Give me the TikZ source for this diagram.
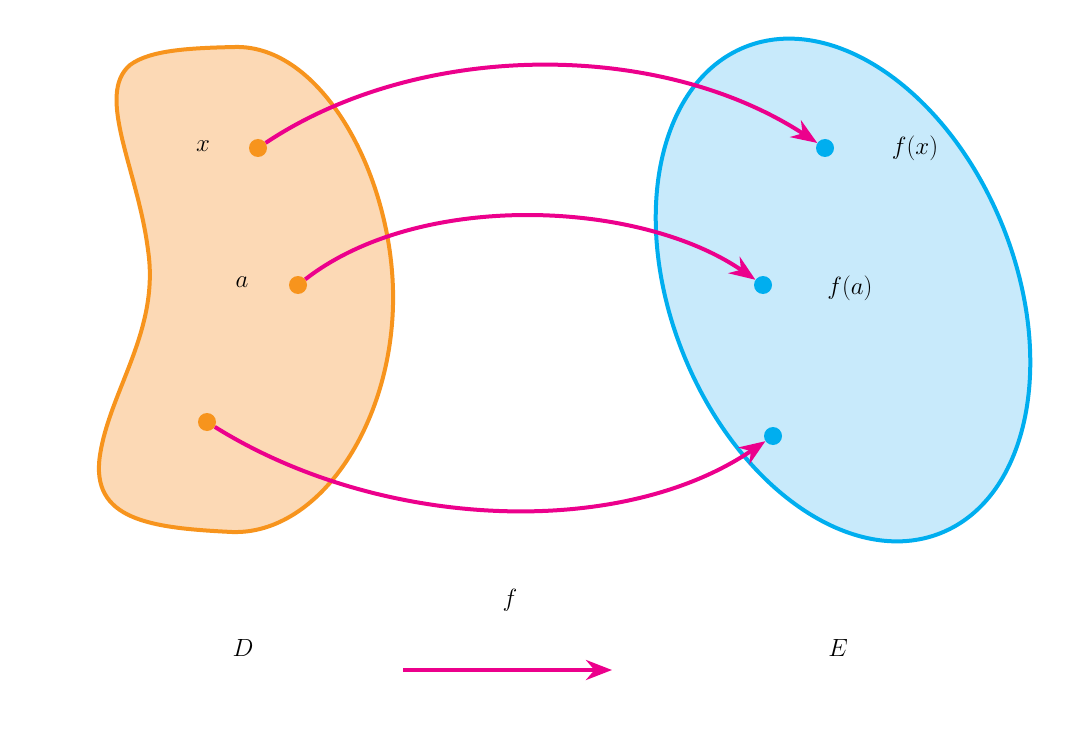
\documentclass[tikz,border=0pt]{standalone}
\usetikzlibrary{arrows.meta}
\definecolor{org}{HTML}{F7941D}
\definecolor{orgf}{HTML}{FCD9B5}
\definecolor{blu}{HTML}{00AEEF}
\definecolor{bluf}{HTML}{C8EAFB}
\definecolor{mag}{HTML}{EC008C}
\begin{document}
\begin{tikzpicture}[x=1pt,y=-1pt,
  dotD/.style={circle,fill=org,inner sep=0pt,minimum size=18pt},
  dotE/.style={circle,fill=blu,inner sep=0pt,minimum size=18pt},
  lab/.style={font=\fontsize{44}{52}\selectfont},
  map/.style={draw=mag,line width=4pt,-{Stealth[length=26pt,width=20pt]}}]
\useasboundingbox (0,0) rectangle (1079,738);
\draw[org,fill=orgf,line width=4pt] (235,47) .. controls (320,45) and (390,170) .. (393,290)
  .. controls (396,420) and (320,535) .. (232,532)
  .. controls (150,528) and (90,520) .. (100,455)
  .. controls (110,390) and (160,330) .. (148,250)
  .. controls (138,170) and (95,95) .. (130,65)
  .. controls (150,50) and (190,48) .. (235,47) -- cycle;
\draw[blu,fill=bluf,line width=4pt,rotate around={22:(843,290)}] (843,290) ellipse (172pt and 262pt);
\node[dotD] (x) at (258,148) {};
\node[dotD] (a) at (298,285) {};
\node[dotD] (c) at (207,422) {};
\node[dotE] (fx) at (825,148) {};
\node[dotE] (fa) at (763,285) {};
\node[dotE] (fc) at (773,436) {};
\node[lab] at (203,146) {$x$};
\node[lab] at (242,282) {$a$};
\node[lab] at (915,148) {$f(x)$};
\node[lab] at (850,288) {$f(a)$};
\node[lab] at (243,648) {$D$};
\node[lab] at (838,648) {$E$};
\node[lab] (f) at (510,600) {$f$};
\draw[map] (x) .. controls (420,40) and (660,40) .. (fx);
\draw[map] (a) .. controls (420,190) and (640,200) .. (fa);
\draw[map] (c) .. controls (380,530) and (620,540) .. (fc);
\coordinate (s) at (403,670); \coordinate (t) at (612,670);
\draw[map] (s) -- (t);
\end{tikzpicture}
\end{document}
